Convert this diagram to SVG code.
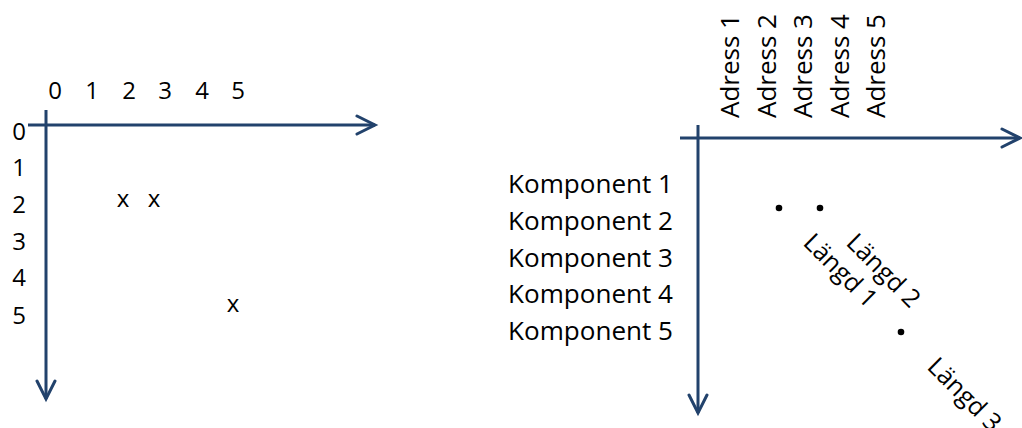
<svg xmlns="http://www.w3.org/2000/svg" width="1022" height="428" viewBox="0 0 1022 428">
<style>
.ax{stroke:#22426c;stroke-width:3;fill:none}
.t{font-family:"Open Sans","Liberation Sans",sans-serif;fill:#000}
.num{font-size:24px;text-anchor:middle}
.lbl{font-size:25px}
.rot{font-size:25px}
.dot{fill:#000}
</style>
<defs>
<marker id="arr" markerUnits="userSpaceOnUse" markerWidth="24" markerHeight="24" refX="20" refY="11" orient="auto">
<path d="M2,2 L20,11 L2,20" fill="none" stroke="#22426c" stroke-width="3" stroke-linecap="round" stroke-linejoin="miter"/>
</marker>
</defs>
<g id="connectors">
<line class="ax" x1="28" y1="125" x2="375" y2="125" marker-end="url(#arr)"/>
<line class="ax" x1="46" y1="110" x2="46" y2="399" marker-end="url(#arr)"/>
<line class="ax" x1="680" y1="138" x2="1020" y2="138" marker-end="url(#arr)"/>
<line class="ax" x1="698" y1="125" x2="698" y2="413" marker-end="url(#arr)"/>
</g>
<g id="left-col-labels" class="t num">
<text x="55" y="99">0</text>
<text x="92" y="99">1</text>
<text x="129" y="99">2</text>
<text x="165" y="99">3</text>
<text x="202" y="99">4</text>
<text x="238" y="99">5</text>
</g>
<g id="left-row-labels" class="t num">
<text x="19" y="140">0</text>
<text x="19" y="176">1</text>
<text x="19" y="213">2</text>
<text x="19" y="250">3</text>
<text x="19" y="286">4</text>
<text x="19" y="324">5</text>
</g>
<g id="left-marks" class="t num">
<text x="123" y="207">x</text>
<text x="154" y="207">x</text>
<text x="233" y="312">x</text>
</g>
<g id="address-labels" class="t rot">
<text transform="translate(739,118) rotate(-90)" textLength="104" lengthAdjust="spacingAndGlyphs">Adress 1</text>
<text transform="translate(776,118) rotate(-90)" textLength="104" lengthAdjust="spacingAndGlyphs">Adress 2</text>
<text transform="translate(812,118) rotate(-90)" textLength="104" lengthAdjust="spacingAndGlyphs">Adress 3</text>
<text transform="translate(849,118) rotate(-90)" textLength="104" lengthAdjust="spacingAndGlyphs">Adress 4</text>
<text transform="translate(885,118) rotate(-90)" textLength="104" lengthAdjust="spacingAndGlyphs">Adress 5</text>
</g>
<g id="component-labels" class="t lbl">
<text x="508" y="193" textLength="165" lengthAdjust="spacingAndGlyphs">Komponent 1</text>
<text x="508" y="230" textLength="165" lengthAdjust="spacingAndGlyphs">Komponent 2</text>
<text x="508" y="267" textLength="165" lengthAdjust="spacingAndGlyphs">Komponent 3</text>
<text x="508" y="303" textLength="165" lengthAdjust="spacingAndGlyphs">Komponent 4</text>
<text x="508" y="340" textLength="165" lengthAdjust="spacingAndGlyphs">Komponent 5</text>
</g>
<g id="dots">
<circle class="dot" cx="779" cy="208" r="3.3"/>
<circle class="dot" cx="820" cy="208" r="3.3"/>
<circle class="dot" cx="901" cy="332" r="3.3"/>
</g>
<g id="length-labels" class="t rot">
<text transform="translate(802,244) rotate(45)">Längd 1</text>
<text transform="translate(845,244) rotate(45)">Längd 2</text>
<text transform="translate(926,368) rotate(45)">Längd 3</text>
</g>
</svg>
